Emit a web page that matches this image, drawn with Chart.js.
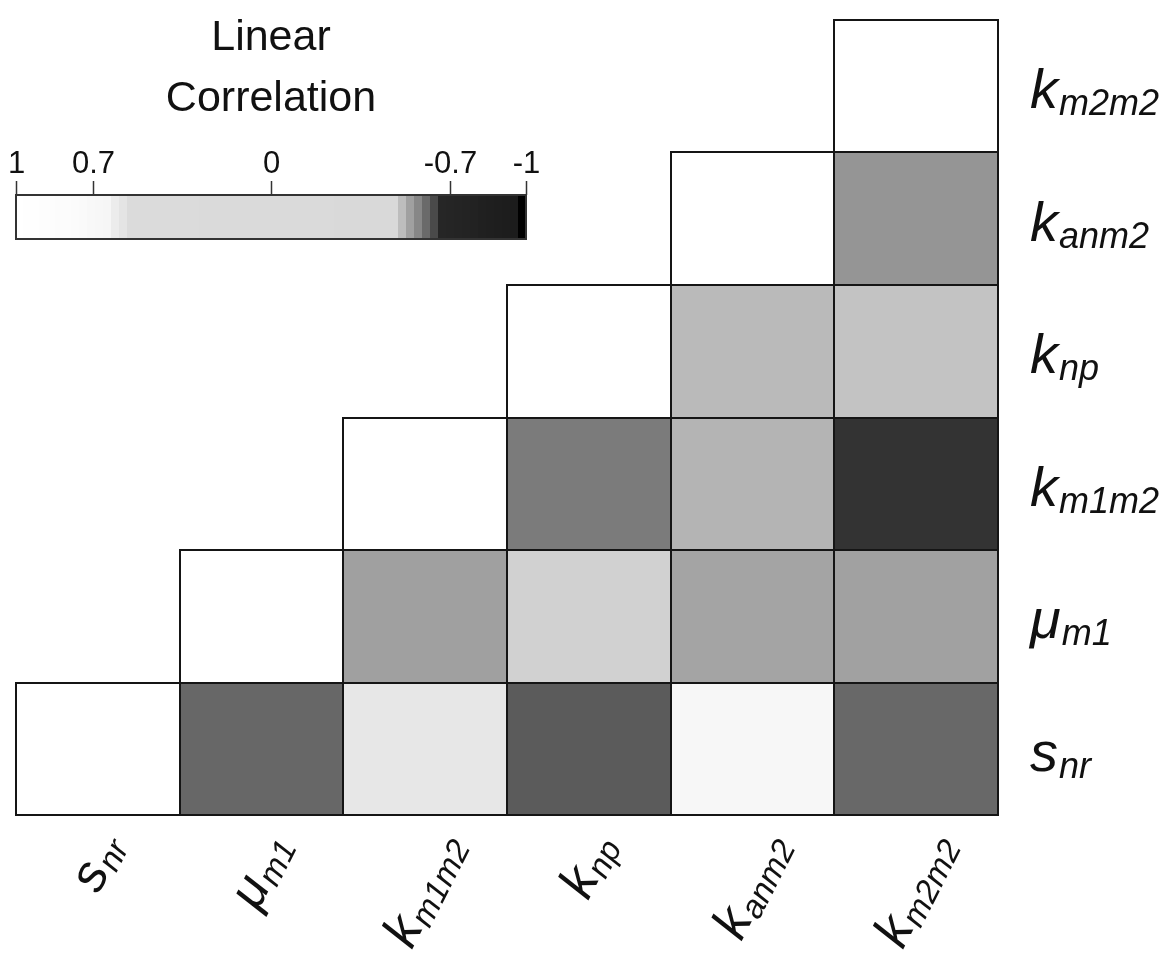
<!DOCTYPE html>
<html>
<head>
<meta charset="utf-8">
<script src="https://cdn.jsdelivr.net/npm/chart.js@4/dist/chart.umd.min.js"></script>
<style>
  html, body { margin: 0; padding: 0; background: #ffffff; }
  #wrap { width: 1167px; height: 958px; }
</style>
</head>
<body>
<div id="wrap"><canvas id="corr" width="1167" height="958"></canvas></div>
<script>
// Variables: symbol and subscript, ordered left-to-right / bottom-to-top
const varMain = ['s', 'μ', 'k', 'k', 'k', 'k'];
const varSub = ['nr', 'm1', 'm1m2', 'np', 'anm2', 'm2m2'];

// Linear correlation, one array per row (row variable vs. each column variable)
const corrSnr   = [1, -0.612, 0.59, -0.624, 0.667, -0.611];
const corrMum1  = [null, 1, -0.547, -0.493, -0.543, -0.546];
const corrKm1m2 = [null, null, 1, -0.591, -0.526, -0.661];
const corrKnp   = [null, null, null, 1, -0.519, -0.509];
const corrKanm2 = [null, null, null, null, 1, -0.561];
const corrKm2m2 = [null, null, null, null, null, 1];
const corrRows = [corrSnr, corrMum1, corrKm1m2, corrKnp, corrKanm2, corrKm2m2];

// Colour bar ticks
const cbarTicks = [1, 0.7, 0, -0.7, -1];
const cbarTickLabels = ['1', '0.7', '0', '-0.7', '-1'];

// Grey colormap: [correlation, grey level]
const grayStops = [
  [1, 255], [0.984, 255], [0.8, 252], [0.64, 246], [0.609, 236], [0.578, 228],
  [0.547, 219], [0, 218], [-0.484, 217], [-0.516, 189], [-0.547, 160],
  [-0.578, 135], [-0.609, 106], [-0.641, 74], [-0.672, 38], [-0.953, 28],
  [-0.984, 0], [-1, 0]
];

function grayLevel(v) {
  for (let i = 0; i < grayStops.length - 1; i++) {
    const [v0, g0] = grayStops[i];
    const [v1, g1] = grayStops[i + 1];
    if (v <= v0 && v >= v1) {
      const t = v0 === v1 ? 0 : (v0 - v) / (v0 - v1);
      return Math.round(g0 + (g1 - g0) * t);
    }
  }
  return v > 1 ? 255 : 0;
}
function grayFor(v) {
  const g = grayLevel(v);
  return `rgb(${g},${g},${g})`;
}

const FONT = '"Liberation Sans", Arial, sans-serif';
const INK = '#111111';

function symbolWidth(ctx, main, sub, mainSize, subSize) {
  ctx.font = `italic ${mainSize}px ${FONT}`;
  const w1 = ctx.measureText(main).width;
  ctx.font = `italic ${subSize}px ${FONT}`;
  const w2 = ctx.measureText(sub).width;
  return w1 + w2 + 1;
}

// Symbol with an italic subscript
function drawSymbol(ctx, main, sub, x, y, align, mainSize, subSize, drop) {
  ctx.font = `italic ${mainSize}px ${FONT}`;
  const w1 = ctx.measureText(main).width;
  const total = symbolWidth(ctx, main, sub, mainSize, subSize);
  const x0 = align === 'right' ? x - total : x;
  ctx.textAlign = 'left';
  ctx.textBaseline = 'alphabetic';
  ctx.fillStyle = INK;
  ctx.font = `italic ${mainSize}px ${FONT}`;
  ctx.fillText(main, x0, y);
  ctx.font = `italic ${subSize}px ${FONT}`;
  ctx.fillText(sub, x0 + w1 + 1, y + drop);
}

// Outline every cell with an even, centred stroke
const cellOutline = {
  id: 'cellOutline',
  afterDatasetsDraw(chart) {
    const ctx = chart.ctx;
    ctx.save();
    ctx.strokeStyle = '#151515';
    ctx.lineWidth = 2;
    chart.data.datasets.forEach((ds, di) => {
      const meta = chart.getDatasetMeta(di);
      meta.data.forEach((el, j) => {
        if (ds.data[j] === null) return;
        const p = el.getProps(['x', 'y', 'base', 'width'], true);
        const left = Math.round(p.x - p.width / 2);
        const right = Math.round(p.x + p.width / 2);
        const top = Math.round(Math.min(p.y, p.base));
        const bottom = Math.round(Math.max(p.y, p.base));
        ctx.strokeRect(left, top, right - left, bottom - top);
      });
    });
    ctx.restore();
  }
};

// Row labels on the right, rotated column labels underneath
const axisLabels = {
  id: 'axisLabels',
  afterDraw(chart) {
    const ctx = chart.ctx;
    const xs = chart.scales.x;
    const ys = chart.scales.y;
    const area = chart.chartArea;
    ctx.save();
    varMain.forEach((m, r) => {
      const y = ys.getPixelForValue(r + 0.5);
      drawSymbol(ctx, m, varSub[r], area.right + 32, y + 22, 'left', 56, 36, 7);
    });

    // column labels: rotated, box centred under each column
    const theta = 63 * Math.PI / 180;
    const mainSize = 52, subSize = 33, drop = 6;
    const yT = -0.74 * mainSize;      // ascender top relative to baseline
    const yB = drop + 2;              // just below subscript baseline
    const c = Math.cos(theta), s = Math.sin(theta);
    varMain.forEach((m, j) => {
      const cx = xs.getPixelForValue(j);
      const L = symbolWidth(ctx, m, varSub[j], mainSize, subSize);
      const boxCenter = (-L * c + (yT + yB) * s) / 2;
      const ax = cx - boxCenter;
      const ay = area.bottom + 12 - yT * c;
      ctx.save();
      ctx.translate(ax, ay);
      ctx.rotate(-theta);
      drawSymbol(ctx, m, varSub[j], 0, 0, 'right', mainSize, subSize, drop);
      ctx.restore();
    });
    ctx.restore();
  }
};

// Colour bar with its title and ticks
const colorBar = {
  id: 'colorBar',
  afterDraw(chart) {
    const ctx = chart.ctx;
    const x0 = 16, x1 = 526, y0 = 195, y1 = 239;
    const bands = 64;
    const bw = (x1 - x0) / bands;
    ctx.save();
    for (let i = 0; i < bands; i++) {
      const v = 1 - (i + 0.5) * 2 / bands;
      ctx.fillStyle = grayFor(v);
      const a = Math.floor(x0 + i * bw);
      const b = Math.ceil(x0 + (i + 1) * bw);
      ctx.fillRect(a, y0, b - a, y1 - y0);
    }
    ctx.strokeStyle = '#333333';
    ctx.lineWidth = 2;
    ctx.strokeRect(x0, y0, x1 - x0, y1 - y0);

    const toX = v => x0 + (1 - v) / 2 * (x1 - x0);
    ctx.lineWidth = 1.5;
    ctx.fillStyle = INK;
    ctx.font = `31px ${FONT}`;
    ctx.textAlign = 'center';
    ctx.textBaseline = 'alphabetic';
    cbarTicks.forEach((t, i) => {
      const x = Math.round(toX(t)) + 0.5;
      ctx.beginPath();
      ctx.moveTo(x, y0);
      ctx.lineTo(x, y0 - 14);
      ctx.stroke();
      ctx.fillText(cbarTickLabels[i], x, 173);
    });

    ctx.font = `43px ${FONT}`;
    ctx.fillText('Linear', 271, 50);
    ctx.fillText('Correlation', 271, 111);
    ctx.restore();
  }
};

const datasets = corrRows.map((row, r) => ({
  label: varMain[r] + varSub[r],
  data: row.map(v => (v === null ? null : [r, r + 1])),
  backgroundColor: row.map(v => (v === null ? 'rgba(0,0,0,0)' : grayFor(v))),
  borderWidth: 0,
  grouped: false,
  barPercentage: 1,
  categoryPercentage: 1
}));

new Chart(document.getElementById('corr'), {
  type: 'bar',
  data: {
    labels: varMain.map((m, i) => m + varSub[i]),
    datasets
  },
  options: {
    responsive: false,
    animation: false,
    layout: { padding: { left: 16, top: 20, right: 169, bottom: 143 } },
    plugins: { legend: { display: false }, tooltip: { enabled: false } },
    scales: {
      x: { display: false, offset: true, grid: { display: false } },
      y: { display: false, min: 0, max: 6, grid: { display: false } }
    }
  },
  plugins: [cellOutline, axisLabels, colorBar]
});
</script>
</body>
</html>
